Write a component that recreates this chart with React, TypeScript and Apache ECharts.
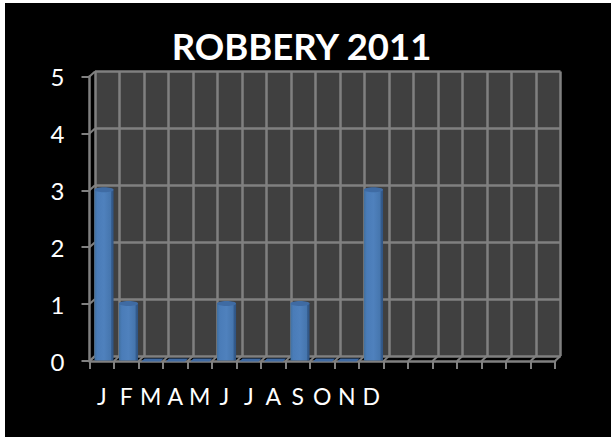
import React, { useEffect, useRef } from "react";
import * as echarts from "echarts";

const months = ["J", "F", "M", "A", "M", "J", "J", "A", "S", "O", "N", "D", "", "", "", "", "", "", ""];
const robberies = [3, 1, 0, 0, 0, 1, 0, 0, 1, 0, 0, 3];
const yTicks = [0, 1, 2, 3, 4, 5];

const AXIS = "#808080";
const DX = 5.5;
const DY = 5;
const FL = 89.5, FR = 555, FT = 76.5, FB = 361;

export default function App() {
  const ref = useRef<HTMLDivElement>(null);
  useEffect(() => {
    const chart = echarts.init(ref.current!, undefined, { renderer: "svg", width: 611, height: 437 });
    const grid = (dx: number, dy: number) => ({
      left: FL + dx,
      top: FT - dy,
      width: FR - FL,
      height: FB - FT,
      containLabel: false,
    });
    const xAxis = (gridIndex: number, front: boolean) => ({
      type: "category" as const,
      gridIndex,
      data: months,
      boundaryGap: true,
      axisLine: { show: front, lineStyle: { color: AXIS, width: 2.5 } },
      axisTick: { show: front, alignWithLabel: false, length: 8, lineStyle: { color: AXIS, width: 2 } },
      axisLabel: {
        show: front,
        interval: 0,
        color: "#ffffff",
        fontFamily: "Lato",
        fontSize: 23,
        margin: 23,
      },
      splitLine: { show: !front, interval: 0, lineStyle: { color: AXIS, width: 2.5 } },
    });
    const yAxis = (gridIndex: number, front: boolean) => ({
      type: "value" as const,
      gridIndex,
      min: 0,
      max: 5,
      interval: 1,
      axisLine: { show: front, lineStyle: { color: AXIS, width: 2.5 } },
      axisTick: { show: front, length: 8, lineStyle: { color: AXIS, width: 2 } },
      axisLabel: {
        show: front,
        color: "#ffffff",
        fontFamily: "Lato",
        fontSize: 24,
        margin: 25,
      },
      splitLine: { show: !front, lineStyle: { color: AXIS, width: 2.5 } },
    });

    chart.setOption({
      animation: false,
      backgroundColor: "#000000",
      title: {
        text: "ROBBERY 2011",
        left: 296.5,
        top: 22,
        textAlign: "center",
        textStyle: { color: "#ffffff", fontFamily: "Lato", fontWeight: "bold", fontSize: 36.5 },
      },
      graphic: [
        { type: "rect", shape: { x: 0, y: 0, width: 5, height: 437 }, style: { fill: "#ffffff" }, z: 100 },
        { type: "rect", shape: { x: 0, y: 0, width: 611, height: 3 }, style: { fill: "#ffffff" }, z: 100 },
      ],
      grid: [
        { ...grid(DX, DY), show: true, backgroundColor: "#404040", borderWidth: 0 },
        { ...grid(0, 0), show: false },
        { ...grid(DX / 2 - 0.5, 0.5), show: false },
      ],
      xAxis: [xAxis(0, false), xAxis(1, true), { ...xAxis(2, false), show: false }],
      yAxis: [yAxis(0, false), yAxis(1, true), { ...yAxis(2, false), show: false }],
      series: [
        {
          // floor depth lines, from the front ticks to the back wall
          type: "custom",
          xAxisIndex: 1,
          yAxisIndex: 1,
          silent: true,
          z: 1,
          data: months.map((_, i) => [i]).concat([[months.length]]),
          renderItem: (params: any, api: any) => {
            const i = api.value(0);
            const band = api.size([1, 0])[0];
            const base = api.coord([0, 0]);
            const x = params.coordSys.x + i * band;
            return {
              type: "line",
              shape: { x1: x, y1: base[1], x2: x + DX, y2: base[1] - DY },
              style: { stroke: AXIS, lineWidth: 2 },
            };
          },
        },
        {
          // left wall depth lines
          type: "custom",
          xAxisIndex: 1,
          yAxisIndex: 1,
          silent: true,
          z: 1,
          data: yTicks.map((v) => [0, v]),
          renderItem: (params: any, api: any) => {
            const y = api.coord([0, api.value(1)])[1];
            const x = params.coordSys.x;
            return {
              type: "line",
              shape: { x1: x, y1: y, x2: x + DX, y2: y - DY },
              style: { stroke: AXIS, lineWidth: 2 },
            };
          },
        },
        {
          // cylinders
          type: "custom",
          xAxisIndex: 2,
          yAxisIndex: 2,
          silent: true,
          z: 5,
          data: robberies.map((v, i) => [i, v]),
          renderItem: (_: any, api: any) => {
            const p = api.coord([api.value(0), api.value(1)]);
            const base = api.coord([api.value(0), 0]);
            const w = api.size([1, 0])[0] * 0.78;
            const l = p[0] - w / 2;
            if (api.value(1) === 0) {
              return {
                type: "polygon",
                shape: {
                  points: [
                    [l - 2, base[1] + 1],
                    [l + w - 2, base[1] + 1],
                    [l + w + 1, base[1] - 2],
                    [l + 1, base[1] - 2],
                  ],
                },
                style: { fill: "#3f6aa3" },
              };
            }
            return {
              type: "group",
              children: [
                {
                  type: "rect",
                  shape: { x: l, y: p[1], width: w, height: base[1] - p[1] },
                  style: {
                    fill: new echarts.graphic.LinearGradient(0, 0, 1, 0, [
                      { offset: 0, color: "#41709f" },
                      { offset: 0.15, color: "#4a7cb8" },
                      { offset: 0.5, color: "#4f81bd" },
                      { offset: 0.84, color: "#4676ae" },
                      { offset: 0.9, color: "#345c8e" },
                      { offset: 1, color: "#2f5483" },
                    ]),
                  },
                },
                {
                  type: "ellipse",
                  shape: { cx: p[0], cy: p[1], rx: w / 2, ry: 2.5 },
                  style: { fill: "#3f6ba3" },
                },
              ],
            };
          },
        },
      ],
    });
    return () => chart.dispose();
  }, []);
  return (
    <div
      ref={ref}
      style={{ position: "fixed", left: 0, top: 0, width: 611, height: 437, background: "#000" }}
    />
  );
}
